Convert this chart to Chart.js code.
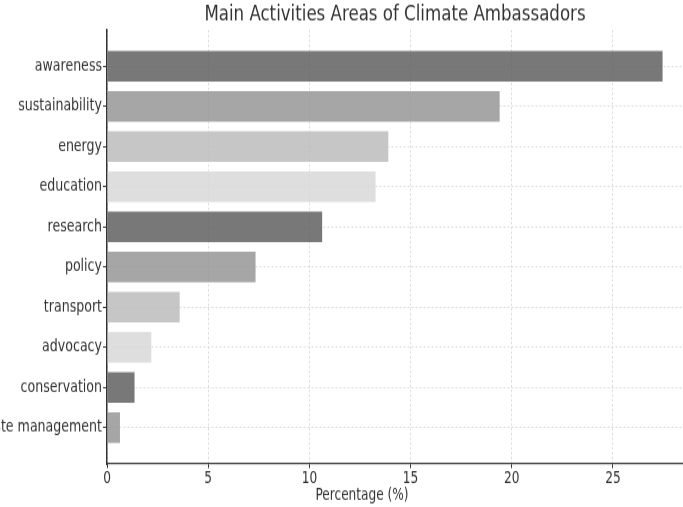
<!DOCTYPE html>
<html>
<head>
<meta charset="utf-8">
<script src="https://cdn.jsdelivr.net/npm/chart.js@4.4.1/dist/chart.umd.min.js"></script>
<style>
  html, body { margin: 0; padding: 0; background: #ffffff; }
  #outer { width: 683px; height: 507px; overflow: hidden; position: relative; }
  #wrap { position: absolute; left: 0; top: 0; width: 683px; height: 423px; transform: scaleY(1.1986); transform-origin: 0 0; }
  #c { display: block; }
</style>
</head>
<body>
<div id="outer"><div id="wrap"><canvas id="c" width="683" height="423"></canvas></div></div>
<script>
const categories = ["awareness", "sustainability", "energy", "education", "research", "policy", "transport", "advocacy", "conservation", "waste management"];
const percentages = [27.5, 19.45, 13.95, 13.32, 10.68, 7.39, 3.64, 2.24, 1.41, 0.69];
const xTicks = [0, 5, 10, 15, 20, 25];
const palette = ["rgba(96,96,96,0.85)", "rgba(150,150,150,0.85)", "rgba(188,188,188,0.85)", "rgba(216,216,216,0.85)"];

const FONT = "'DejaVu Sans Condensed', 'DejaVu Sans', sans-serif";

const xLabelPlugin = {
  id: 'xLabel',
  afterDraw(chart) {
    const ctx = chart.ctx;
    const xs = chart.scales.x;
    ctx.save();
    ctx.font = "13.5px " + FONT;
    ctx.fillStyle = "#333333";
    ctx.textAlign = "center";
    ctx.textBaseline = "middle";
    ctx.fillText("Percentage (%)", xs.getPixelForValue(12.6), chart.chartArea.bottom + 26);
    ctx.restore();
  }
};

const gridCommon = {
  color: "rgba(205,205,205,0.9)",
  lineWidth: 0.8,
  tickColor: "#333333",
  tickBorderDash: [],
  tickWidth: 1,
  tickLength: 3.5,
  offset: false
};

new Chart(document.getElementById('c'), {
  type: 'bar',
  data: {
    datasets: [{
      data: percentages.map((v, i) => ({ x: v, y: i })),
      backgroundColor: percentages.map((v, i) => palette[i % palette.length]),
      borderColor: "rgba(255,255,255,0.35)",
      borderWidth: 1,
      barPercentage: 0.82,
      categoryPercentage: 1.0
    }]
  },
  options: {
    indexAxis: 'y',
    responsive: false,
    devicePixelRatio: 1,
    animation: false,
    layout: { padding: { left: 0, right: 0, top: 0, bottom: 0 } },
    plugins: {
      legend: { display: false },
      tooltip: { enabled: false },
      title: {
        display: true,
        text: "Main Activities Areas of Climate Ambassadors",
        fullSize: false,
        color: "#333333",
        font: { family: FONT, size: 18.5, weight: 'normal' },
        padding: { top: 1, bottom: 2 }
      }
    },
    scales: {
      x: {
        type: 'linear',
        min: 0,
        max: 28.46,
        offset: false,
        afterBuildTicks: (s) => { s.ticks = xTicks.map(v => ({ value: v })); },
        afterFit: (s) => { s.height = 36; },
        ticks: { color: "#333333", font: { family: FONT, size: 13.5 }, padding: 1, maxRotation: 0 },
        grid: Object.assign({}, gridCommon),
        border: { display: true, color: "#333333", width: 1.3, dash: [2, 2] }
      },
      y: {
        type: 'linear',
        reverse: true,
        min: -0.9,
        max: 9.9,
        offset: false,
        afterBuildTicks: (s) => { s.ticks = categories.map((c, i) => ({ value: i })); },
        afterFit: (s) => { s.width = 107; },
        ticks: {
          color: "#333333",
          font: { family: FONT, size: 14 },
          padding: 1,
          callback: (v) => categories[v] !== undefined ? categories[v] : ''
        },
        grid: Object.assign({}, gridCommon, { tickLength: 4 }),
        border: { display: true, color: "#333333", width: 1.5, dash: [2, 2] }
      }
    }
  },
  plugins: [xLabelPlugin]
});
</script>
</body>
</html>
